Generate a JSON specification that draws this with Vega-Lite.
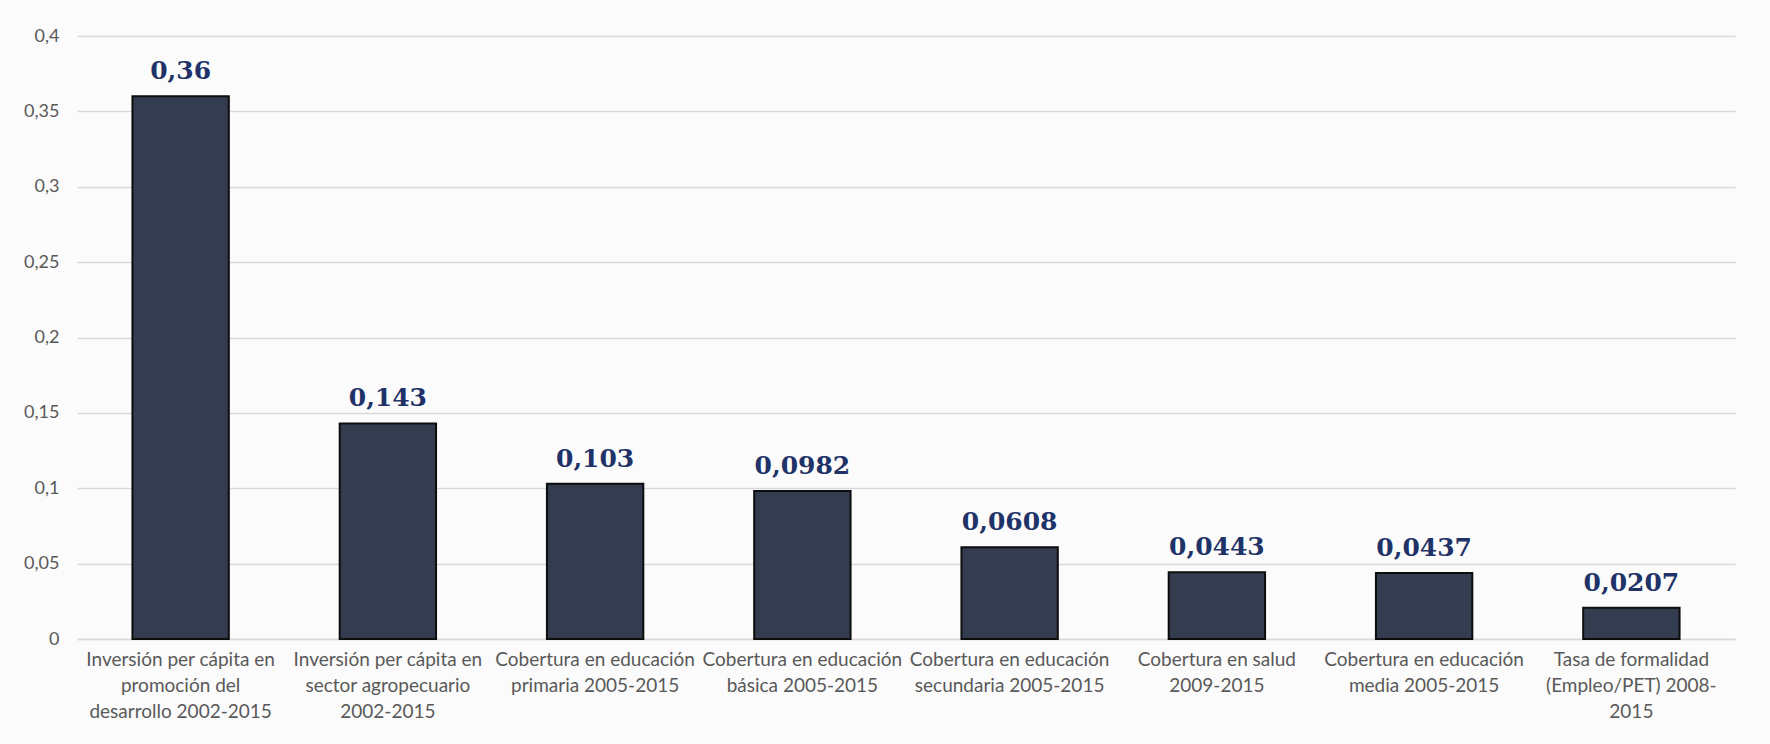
{
  "$schema": "https://vega.github.io/schema/vega-lite/v6.json",
  "autosize": "none",
  "width": 1658,
  "height": 603,
  "padding": {"left": 77, "top": 36, "right": 35, "bottom": 105},
  "background": "#fbfbfb",
  "config": {
    "locale": {"number": {"decimal": ",", "thousands": ".", "grouping": [3], "currency": ["", ""]}},
    "view": {"stroke": null},
    "font": "Lato"
  },
  "data": {
    "values": [
      {"indicador": "Inversión per cápita en|promoción del|desarrollo 2002-2015", "valor": 0.36},
      {"indicador": "Inversión per cápita en|sector agropecuario|2002-2015", "valor": 0.143},
      {"indicador": "Cobertura en educación|primaria 2005-2015", "valor": 0.103},
      {"indicador": "Cobertura en educación|básica 2005-2015", "valor": 0.0982},
      {"indicador": "Cobertura en educación|secundaria 2005-2015", "valor": 0.0608},
      {"indicador": "Cobertura en salud|2009-2015", "valor": 0.0443},
      {"indicador": "Cobertura en educación|media 2005-2015", "valor": 0.0437},
      {"indicador": "Tasa de formalidad|(Empleo/PET) 2008-|2015", "valor": 0.0207}
    ]
  },
  "encoding": {
    "x": {
      "field": "indicador",
      "type": "nominal",
      "sort": null,
      "scale": {"paddingInner": 0.535, "paddingOuter": 0.2675},
      "axis": {
        "title": null,
        "labelAngle": 0,
        "labelExpr": "split(datum.label, '|')",
        "labelFont": "Lato",
        "labelFontSize": 19,
        "labelColor": "#595959",
        "labelLineHeight": 26,
        "labelPadding": 11,
        "labelBaseline": "top",
        "labelLimit": 300,
        "ticks": false,
        "domain": true,
        "domainColor": "#d9d9d9",
        "domainWidth": 1.5,
        "grid": false
      }
    },
    "y": {
      "field": "valor",
      "type": "quantitative",
      "scale": {"domain": [0, 0.4], "nice": false},
      "axis": {
        "title": null,
        "values": [0, 0.05, 0.1, 0.15, 0.2, 0.25, 0.3, 0.35, 0.4],
        "format": ".2~f",
        "labelFont": "Lato",
        "labelFontSize": 18,
        "labelColor": "#595959",
        "labelPadding": 18,
        "ticks": false,
        "domain": false,
        "grid": true,
        "gridColor": "#d9d9d9",
        "gridWidth": 1.5
      }
    }
  },
  "layer": [
    {
      "mark": {"type": "bar", "fill": "#333d4f", "stroke": "#0d0d0d", "strokeWidth": 2}
    },
    {
      "mark": {
        "type": "text",
        "font": "DejaVu Serif",
        "fontWeight": "bold",
        "fontSize": 25,
        "color": "#1f3368",
        "baseline": "alphabetic",
        "dy": -17
      },
      "encoding": {
        "text": {"field": "valor", "type": "quantitative", "format": "~g"}
      }
    }
  ]
}
